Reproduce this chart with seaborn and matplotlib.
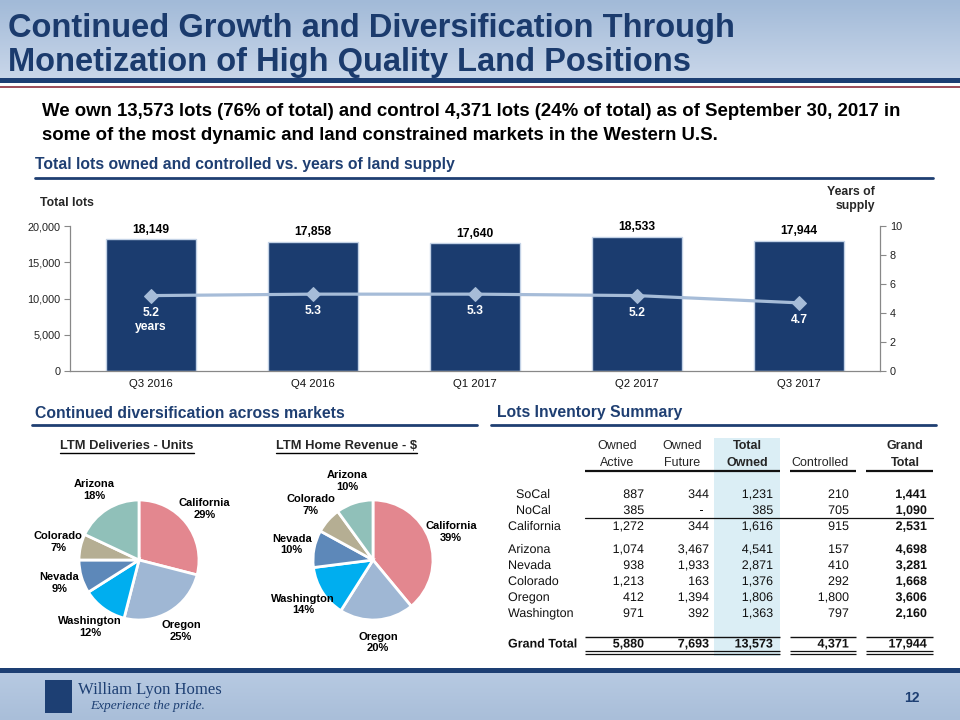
import numpy as np
import matplotlib
matplotlib.use("Agg")
import matplotlib.pyplot as plt
import matplotlib.patheffects as pe
from matplotlib import font_manager as fm
from matplotlib.colors import LinearSegmentedColormap
from matplotlib.patches import Rectangle
import seaborn as sns

# ---------------- data ----------------
quarters = ["Q3 2016", "Q4 2016", "Q1 2017", "Q2 2017", "Q3 2017"]
total_lots = [18149, 17858, 17640, 18533, 17944]
years_supply = [5.2, 5.3, 5.3, 5.2, 4.7]
years_labels = ["5.2\nyears", "5.3", "5.3", "5.2", "4.7"]

markets = ["California", "Oregon", "Washington", "Nevada", "Colorado", "Arizona"]
deliveries_pct = [29, 25, 12, 9, 7, 18]
revenue_pct = [39, 20, 14, 10, 7, 10]
market_colors = ["#e3878f", "#9fb7d4", "#00aeef", "#5d88b9", "#b5ae93", "#90c0b9"]

table_rows = ["SoCal", "NoCal", "California", "Arizona", "Nevada", "Colorado",
              "Oregon", "Washington", "Grand Total"]
owned_active = [887, 385, 1272, 1074, 938, 1213, 412, 971, 5880]
owned_future = [344, None, 344, 3467, 1933, 163, 1394, 392, 7693]
total_owned = [1231, 385, 1616, 4541, 2871, 1376, 1806, 1363, 13573]
controlled = [210, 705, 915, 157, 410, 292, 1800, 797, 4371]
grand_total = [1441, 1090, 2531, 4698, 3281, 1668, 3606, 2160, 17944]
table_headers = ["Owned\nActive", "Owned\nFuture", "Total\nOwned", "Controlled", "Grand\nTotal"]

# ---------------- style ----------------
sns.set_theme(style="white")


def has_font(name):
    try:
        fm.findfont(fm.FontProperties(family=name), fallback_to_default=False)
        return True
    except Exception:
        return False


NARROW = has_font("Liberation Sans Narrow")
plt.rcParams["font.family"] = ["Liberation Sans", "DejaVu Sans"]
narrow_fam = ["Liberation Sans Narrow", "Liberation Sans", "DejaVu Sans"] if NARROW else ["Liberation Sans", "DejaVu Sans"]

NAVY = "#1b3b6d"
HEAD = "#1f3f72"
W, H = 960, 720
PATH = [pe.Normal()]

fig = plt.figure(figsize=(9.6, 7.2), dpi=100)
fig.patch.set_facecolor("white")


def ax_px(left, top, right, bottom):
    return fig.add_axes([left / W, 1 - bottom / H, (right - left) / W, (bottom - top) / H])


# overlay in pixel coordinates
ov = fig.add_axes([0, 0, 1, 1], zorder=0)
ov.patch.set_alpha(0)

grad = np.linspace(0, 1, 100).reshape(-1, 1)
ov.imshow(grad, cmap=LinearSegmentedColormap.from_list("h", ["#a2bad8", "#c8d6e9"]),
          extent=(0, W, 78, 0), aspect="auto", zorder=0)
ov.imshow(grad, cmap=LinearSegmentedColormap.from_list("f", ["#b7cae2", "#a9bed9"]),
          extent=(0, W, H, 672), aspect="auto", zorder=0)
ov.add_patch(Rectangle((0, 78), W, 5, color="#1d3f73", lw=0, zorder=1))
ov.plot([0, W], [86.5, 86.5], color="#8c2f3c", lw=1.2, zorder=1)
ov.add_patch(Rectangle((0, 668), W, 5, color="#1d3f73", lw=0, zorder=1))
ov.set_xlim(0, W)
ov.set_ylim(H, 0)
ov.axis("off")

# title
tsize = 25 if NARROW else 23.5
ov.text(8, 28, "Continued Growth and Diversification Through", fontsize=tsize, fontweight="bold",
        color=NAVY, family=narrow_fam, va="center", ha="left")
ov.text(8, 62, "Monetization of High Quality Land Positions", fontsize=tsize, fontweight="bold",
        color=NAVY, family=narrow_fam, va="center", ha="left")

ssize = 13.3 if NARROW else 13.4
ov.text(42, 112, "We own 13,573 lots (76% of total) and control 4,371 lots (24% of total) as of September 30, 2017 in",
        fontsize=ssize, fontweight="bold", color="black", family=narrow_fam, va="center")
ov.text(42, 135, "some of the most dynamic and land constrained markets in the Western U.S.",
        fontsize=ssize, fontweight="bold", color="black", family=narrow_fam, va="center")

# section headings
ov.text(35, 165, "Total lots owned and controlled vs. years of land supply", fontsize=11.3,
        fontweight="bold", color=HEAD, va="center")
ov.plot([35, 933], [178, 178], color=HEAD, lw=2)
ov.text(35, 413, "Continued diversification across markets", fontsize=11.3,
        fontweight="bold", color=HEAD, va="center")
ov.plot([32, 477], [425, 425], color=HEAD, lw=2)
ov.text(497, 413, "Lots Inventory Summary", fontsize=11.3, fontweight="bold", color=HEAD, va="center")
ov.plot([491, 936], [425, 425], color=HEAD, lw=2)

# ---------------- bar + line chart ----------------
ax = ax_px(70, 226, 880, 371)
ax.set_zorder(2)
ax.patch.set_alpha(0)
sns.barplot(x=quarters, y=total_lots, color="#1b3c6f", saturation=1, width=0.56,
            edgecolor="#c3d2e6", linewidth=1, ax=ax)
ax.set_ylim(0, 20000)
ax.set_xlim(-0.5, len(quarters) - 0.5)
ax.set_yticks(range(0, 20001, 5000))
ax.set_yticklabels([f"{v:,}" for v in range(0, 20001, 5000)], fontsize=7.8, color="#222222")
ax.tick_params(axis="x", labelsize=8.2, length=0, pad=6, colors="#111111")
ax.tick_params(axis="y", length=4, width=0.8, color="#888888", direction="out", left=True, pad=3)
for s in ["top", "right"]:
    ax.spines[s].set_visible(False)
for s in ["left", "bottom"]:
    ax.spines[s].set_color("#888888")
    ax.spines[s].set_linewidth(0.9)
ax.set_xlabel("")
ax.set_ylabel("")
for i, v in enumerate(total_lots):
    ax.annotate(f"{v:,}", (i, v), xytext=(0, 2.5), textcoords="offset points",
                ha="center", va="bottom", fontsize=8.7, fontweight="bold", color="black")

ax2 = ax.twinx()
sns.lineplot(x=np.arange(len(quarters)), y=years_supply, ax=ax2, color="#a6bcd8",
             linewidth=2.3, marker="D", markersize=7, markeredgecolor="#a6bcd8")
ax2.set_ylim(0, 10)
ax2.set_xlim(-0.5, len(quarters) - 0.5)
ax2.set_yticks(range(0, 11, 2))
ax2.set_yticklabels([str(v) for v in range(0, 11, 2)], fontsize=7.8, color="#222222")
ax2.tick_params(axis="y", length=4, width=0.8, color="#888888", direction="out", right=True, pad=3)
for s in ["top", "left", "bottom"]:
    ax2.spines[s].set_visible(False)
ax2.spines["right"].set_color("#888888")
ax2.spines["right"].set_linewidth(0.9)
ax2.set_ylabel("")
for i, (v, lab) in enumerate(zip(years_supply, years_labels)):
    ax2.annotate(lab, (i, v), xytext=(0, -8), textcoords="offset points", ha="center", va="top",
                 fontsize=8.7, fontweight="bold", color="white", linespacing=1.3)

ov.text(40, 203, "Total lots", fontsize=8.8, fontweight="bold", va="center", ha="left")
ov.text(875, 199, "Years of\nsupply", fontsize=8.8, fontweight="bold", va="center", ha="right",
        multialignment="right", linespacing=1.15)

# ---------------- pies ----------------
def draw_pie(cx, cy, values, title, tx):
    pax = ax_px(cx - 120, cy - 120, cx + 120, cy + 120)
    pax.set_zorder(2)
    labels = [f"{m}\n{v}%" for m, v in zip(markets, values)]
    wedges, texts = pax.pie(values, colors=market_colors, startangle=90, counterclock=False,
                            labels=labels, labeldistance=1.38,
                            wedgeprops=dict(edgecolor="white", linewidth=2),
                            textprops=dict(fontsize=8, fontweight="bold", color="black"))
    for t in texts:
        t.set_ha("center")
        t.set_va("center")
        t.set_multialignment("center")
    pax.set_xlim(-2, 2)
    pax.set_ylim(-2, 2)
    pax.set_aspect("equal")
    pax.axis("off")
    return ov.text(tx, 446, title, fontsize=9.3, fontweight="bold", ha="center", va="center")


t1 = draw_pie(139, 560, deliveries_pct, "LTM Deliveries - Units", 127)
t2 = draw_pie(373, 560, revenue_pct, "LTM Home Revenue - $", 346)

# ---------------- table ----------------
FS = 9
ov.add_patch(Rectangle((714, 438), 66, 218, color="#dbeef5", lw=0, zorder=1))
hdr_x = [617, 682, 747, 820, 905]
hdr_bold = [False, False, True, False, True]
for x, h, b in zip(hdr_x, table_headers, hdr_bold):
    lines = h.split("\n")
    wt = "bold" if b else "normal"
    if len(lines) == 2:
        ov.text(x, 449, lines[0], fontsize=FS, ha="center", va="baseline", fontweight=wt)
        ov.text(x, 466, lines[1], fontsize=FS, ha="center", va="baseline", fontweight=wt)
    else:
        ov.text(x, 466, lines[0], fontsize=FS, ha="center", va="baseline", fontweight=wt)
segments = [(585, 780), (790, 856), (866, 933)]
for a, b in segments:
    ov.plot([a, b], [471, 471], color="#111111", lw=1.6, solid_capstyle="butt")
    ov.plot([a, b], [637, 637], color="#111111", lw=1.0, solid_capstyle="butt")
    ov.plot([a, b], [650.5, 650.5], color="#111111", lw=0.9, solid_capstyle="butt")
    ov.plot([a, b], [653.5, 653.5], color="#111111", lw=0.9, solid_capstyle="butt")
ov.plot([585, 933], [517.5, 517.5], color="#111111", lw=0.9)

row_y = [494, 510, 526, 549, 565, 581, 597, 613, 643.5]
row_x = [516, 516, 508, 508, 508, 508, 508, 508, 508]
col_right = [644, 709, 773, 849, 927]
cols = [owned_active, owned_future, total_owned, controlled, grand_total]
for r, (name, y, x) in enumerate(zip(table_rows, row_y, row_x)):
    last = r == len(table_rows) - 1
    ov.text(x, y + 4, name, fontsize=FS, ha="left", va="baseline",
            fontweight="bold" if last else "normal", color="#111111", path_effects=PATH)
    for c, (col, xr) in enumerate(zip(cols, col_right)):
        v = col[r]
        s = "-" if v is None else f"{v:,}"
        bold = last or c == 4
        ov.text(xr if v is not None else xr - 6, y + 4, s, fontsize=FS, ha="right", va="baseline",
                fontweight="bold" if bold else "normal", color="#111111", path_effects=PATH)

# ---------------- footer ----------------
ov.add_patch(Rectangle((45, 680), 27, 33, color="#1d3f73", lw=0, zorder=2))
ov.text(78, 690, "William Lyon Homes", fontsize=12, family=["Liberation Serif", "DejaVu Serif"],
        color="#1d3f73", va="center", ha="left")
ov.text(90, 706, "Experience the pride.", fontsize=9.6, family=["Liberation Serif", "DejaVu Serif"],
        style="italic", color="#1d3f73", va="center", ha="left")
ov.text(912, 698, "12", fontsize=10, fontweight="bold", color="#1d3f73", va="center", ha="center")

# underline pie titles
fig.canvas.draw()
inv = ov.transData.inverted()
for t in (t1, t2):
    bb = t.get_window_extent()
    (x0, y0), (x1, y1) = inv.transform([[bb.x0, bb.y0], [bb.x1, bb.y1]])
    ov.plot([x0, x1], [y0 + 1, y0 + 1], color="black", lw=1)

fig.savefig("out.png", dpi=100)
